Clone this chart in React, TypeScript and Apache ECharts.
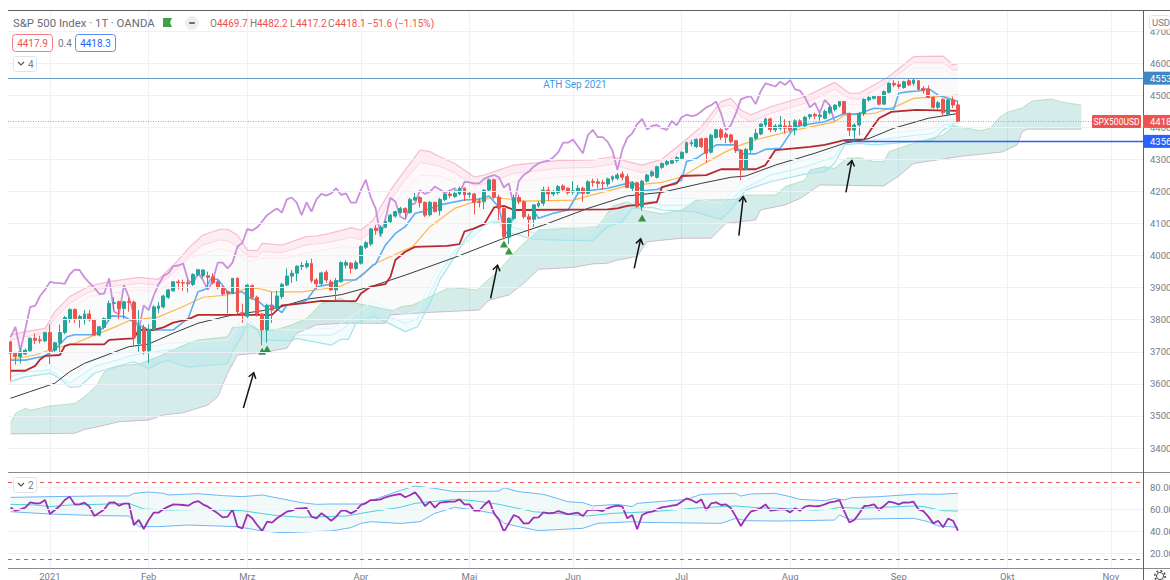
import React, { useEffect, useRef } from "react";
import * as echarts from "echarts";

type P = [number, number];

const FONT = "Roboto, 'Liberation Sans', sans-serif";
const GREY = "#787b86";
const UP = "#26a69a";
const DOWN = "#ef5350";

const monthTicks = [8, 28, 48, 71, 93, 114, 136, 158, 180, 202, 223];
const monthLabels = ["2021", "Feb", "Mrz", "Apr", "Mai", "Jun", "Jul", "Aug", "Sep", "Okt", "Nov"];
const priceTicks = [3400, 3500, 3600, 3700, 3800, 3900, 4000, 4100, 4200, 4300, 4400, 4500, 4600, 4700];
const rsiTicks = [20, 40, 60, 80];
const barCount = 230;

const opens = [
  3731, 3695, 3685, 3693, 3703, 3742, 3737, 3734, 3760, 3705,
  3727, 3760, 3803, 3832, 3803, 3802, 3818, 3800, 3752, 3776,
  3801, 3851, 3856, 3835, 3856, 3855, 3726, 3776, 3703, 3770,
  3835, 3840, 3870, 3890, 3918, 3916, 3915, 3910, 3940, 3937,
  3937, 3934, 3918, 3902, 3887, 3882, 3929, 3822, 3811, 3906,
  3870, 3818, 3768, 3843, 3835, 3872, 3908, 3936, 3945, 3966,
  3965, 3975, 3924, 3912, 3948, 3918, 3893, 3919, 3970, 3976,
  3960, 3976, 4026, 4036, 4085, 4070, 4088, 4106, 4123, 4134,
  4147, 4134, 4173, 4181, 4166, 4127, 4166, 4140, 4175, 4192,
  4184, 4192, 4210, 4191, 4192, 4168, 4168, 4204, 4236, 4182,
  4147, 4057, 4116, 4181, 4168, 4121, 4113, 4155, 4163, 4204,
  4192, 4196, 4217, 4210, 4198, 4199, 4210, 4194, 4231, 4230,
  4228, 4223, 4238, 4241, 4254, 4246, 4210, 4227, 4152, 4232,
  4249, 4244, 4275, 4285, 4288, 4296, 4303, 4321, 4348, 4340,
  4364, 4365, 4322, 4368, 4392, 4379, 4376, 4358, 4329, 4269,
  4329, 4365, 4379, 4407, 4426, 4392, 4397, 4404, 4404, 4392,
  4420, 4404, 4433, 4440, 4433, 4428, 4445, 4456, 4466, 4480,
  4443, 4391, 4407, 4443, 4485, 4490, 4497, 4472, 4509, 4537,
  4533, 4524, 4545, 4537, 4545, 4521, 4518, 4493, 4462, 4487,
  4441, 4485, 4469.7,
];
const closes = [
  3695, 3685, 3700, 3705, 3742, 3736, 3735, 3760, 3705, 3728,
  3760, 3807, 3832, 3803, 3810, 3818, 3800, 3752, 3778, 3804,
  3851, 3853, 3835, 3856, 3854, 3745, 3778, 3703, 3770, 3840,
  3843, 3874, 3893, 3918, 3915, 3914, 3912, 3941, 3956, 3955,
  3932, 3915, 3900, 3880, 3882, 3929, 3825, 3817, 3908, 3870,
  3818, 3768, 3845, 3830, 3874, 3910, 3936, 3945, 3967, 3969,
  3975, 3922, 3912, 3946, 3924, 3893, 3922, 3978, 3978, 3960,
  3978, 4028, 4040, 4083, 4078, 4088, 4106, 4126, 4137, 4147,
  4134, 4175, 4181, 4165, 4126, 4166, 4137, 4175, 4192, 4187,
  4194, 4210, 4189, 4194, 4165, 4165, 4204, 4236, 4182, 4147,
  4059, 4116, 4180, 4168, 4121, 4113, 4158, 4163, 4204, 4192,
  4199, 4215, 4206, 4196, 4202, 4210, 4194, 4230, 4228, 4225,
  4225, 4239, 4246, 4251, 4244, 4212, 4225, 4152, 4232, 4251,
  4261, 4277, 4287, 4293, 4296, 4306, 4322, 4352, 4352, 4362,
  4340, 4319, 4375, 4392, 4369, 4369, 4355, 4327, 4267, 4331,
  4367, 4381, 4410, 4426, 4393, 4404, 4407, 4397, 4392, 4420,
  4406, 4431, 4439, 4435, 4438, 4449, 4462, 4469, 4480, 4443,
  4391, 4407, 4443, 4487, 4493, 4497, 4472, 4511, 4537, 4532,
  4527, 4542, 4532, 4547, 4518, 4514, 4493, 4462, 4476, 4445,
  4485, 4469, 4418.1,
];
const highs = [
  3735, 3700, 3711, 3710, 3745, 3757, 3750, 3762, 3786, 3731,
  3785, 3812, 3835, 3835, 3815, 3830, 3830, 3803, 3780, 3807,
  3860, 3870, 3860, 3858, 3868, 3860, 3830, 3785, 3785, 3845,
  3855, 3878, 3896, 3920, 3925, 3925, 3925, 3945, 3958, 3958,
  3950, 3945, 3925, 3907, 3890, 3930, 3932, 3850, 3910, 3910,
  3875, 3820, 3850, 3887, 3890, 3915, 3960, 3955, 3970, 3980,
  3985, 3990, 3930, 3950, 3955, 3925, 3930, 3982, 3985, 3980,
  3985, 4032, 4045, 4086, 4095, 4095, 4110, 4130, 4140, 4152,
  4150, 4180, 4195, 4185, 4168, 4170, 4168, 4180, 4195, 4205,
  4205, 4215, 4212, 4200, 4195, 4180, 4206, 4240, 4240, 4190,
  4150, 4120, 4190, 4190, 4172, 4130, 4160, 4170, 4215, 4215,
  4205, 4220, 4222, 4212, 4232, 4220, 4215, 4235, 4240, 4240,
  4235, 4243, 4250, 4258, 4262, 4255, 4232, 4230, 4236, 4255,
  4265, 4280, 4290, 4298, 4302, 4310, 4325, 4355, 4360, 4365,
  4368, 4368, 4380, 4395, 4397, 4385, 4380, 4360, 4332, 4335,
  4370, 4395, 4412, 4430, 4430, 4410, 4435, 4425, 4420, 4425,
  4425, 4435, 4442, 4445, 4445, 4455, 4470, 4472, 4482, 4482,
  4446, 4412, 4448, 4490, 4497, 4500, 4500, 4515, 4540, 4547,
  4543, 4545, 4550, 4552, 4547, 4528, 4530, 4497, 4482, 4490,
  4488, 4495, 4482.2,
];
const lows = [
  3610, 3660, 3664, 3690, 3700, 3724, 3726, 3730, 3662, 3700,
  3700, 3755, 3790, 3790, 3775, 3785, 3795, 3750, 3748, 3770,
  3795, 3830, 3800, 3800, 3825, 3715, 3700, 3692, 3665, 3765,
  3820, 3835, 3865, 3888, 3895, 3890, 3885, 3905, 3935, 3930,
  3895, 3910, 3895, 3875, 3820, 3880, 3817, 3790, 3805, 3865,
  3810, 3720, 3728, 3790, 3830, 3865, 3905, 3915, 3920, 3955,
  3960, 3915, 3895, 3905, 3915, 3890, 3860, 3915, 3960, 3945,
  3955, 3972, 4020, 4030, 4065, 4060, 4085, 4100, 4118, 4130,
  4115, 4130, 4170, 4150, 4120, 4122, 4135, 4125, 4170, 4180,
  4180, 4188, 4170, 4180, 4128, 4150, 4145, 4200, 4175, 4111,
  4050, 4036, 4110, 4160, 4115, 4059, 4090, 4150, 4155, 4170,
  4185, 4190, 4200, 4190, 4190, 4190, 4168, 4190, 4215, 4210,
  4205, 4215, 4230, 4235, 4235, 4210, 4200, 4150, 4140, 4228,
  4245, 4240, 4270, 4280, 4285, 4290, 4300, 4318, 4340, 4335,
  4335, 4290, 4318, 4365, 4360, 4350, 4350, 4320, 4235, 4265,
  4320, 4360, 4375, 4400, 4385, 4385, 4390, 4380, 4385, 4375,
  4400, 4400, 4425, 4425, 4420, 4425, 4440, 4450, 4462, 4440,
  4373, 4358, 4375, 4435, 4480, 4487, 4468, 4470, 4505, 4525,
  4520, 4520, 4528, 4530, 4515, 4505, 4490, 4458, 4455, 4435,
  4437, 4460, 4417.2,
];

const tenkan: P[] = [
  [0, 3674], [3, 3674], [7, 3687], [9, 3708], [11.5, 3747], [13, 3753], [17, 3753], [19, 3778], [20.5, 3812], [23, 3810],
  [26, 3784], [28, 3768], [33, 3768], [36, 3804], [38, 3887], [39.5, 3895], [40.5, 3926], [42, 3926], [44, 3887], [45, 3882],
  [47, 3887], [48.5, 3867], [50, 3861], [51.5, 3841], [53, 3846], [55, 3822], [56, 3846], [58, 3849], [60, 3861], [62, 3903],
  [65, 3911], [67, 3924], [70, 3924], [72, 3950], [73.5, 3971], [74, 3974], [76, 4033], [78, 4069], [80, 4090], [82, 4132],
  [83.5, 4137], [87, 4158], [92, 4173], [95, 4176], [97, 4186], [99, 4150], [100, 4080], [101, 4062], [102, 4142], [106, 4142],
  [107, 4116], [110, 4132], [113, 4142], [115, 4194], [117, 4202], [121, 4210], [125, 4225], [126, 4230], [128, 4202], [131, 4206],
  [136, 4235], [137, 4293], [139, 4303], [141, 4324], [143, 4345], [147, 4345], [148, 4317], [151, 4317], [153, 4331], [156, 4334],
  [158, 4381], [159, 4402], [162, 4410], [165, 4417], [169, 4443], [171, 4441], [172, 4443], [175, 4459], [179, 4456], [180, 4506],
  [182, 4511], [184, 4513], [186, 4521], [188, 4500], [190, 4490], [192, 4480],
];
const kijun: P[] = [
  [0, 3641], [3, 3641], [5, 3656], [6, 3676], [7, 3687], [10, 3690], [11, 3718], [12, 3723], [19, 3723], [20, 3737],
  [24, 3741], [25, 3742], [26, 3768], [29, 3768], [31, 3776], [33, 3791], [36, 3801], [38, 3815], [53, 3815], [55, 3845],
  [59, 3851], [63, 3859], [67, 3858], [70, 3858], [71, 3882], [73, 3903], [76, 3911], [77, 3934], [78, 3986], [80, 4012],
  [82, 4027], [88.5, 4030], [91, 4036], [92, 4075], [94, 4085], [96, 4098], [98, 4150], [100, 4155], [102, 4142], [121, 4144],
  [123, 4147], [125, 4155], [127, 4158], [131, 4167], [132, 4213], [135, 4225], [136, 4248], [141, 4251], [144, 4269], [151, 4269],
  [153, 4282], [155, 4329], [162, 4339], [165, 4345], [169, 4360], [173, 4362], [175, 4407], [176, 4428], [178.5, 4448], [183.5, 4454],
  [192, 4451],
];
const ema: P[] = [
  [0, 3676], [5, 3690], [9, 3711], [13, 3726], [17, 3752], [21, 3776], [24, 3797], [30, 3809], [35, 3841], [37, 3856],
  [39, 3870], [44, 3877], [48, 3898], [50, 3898], [53, 3887], [59, 3887], [63, 3895], [67, 3905], [71, 3934], [74, 3976],
  [81.5, 4028], [85, 4090], [90, 4147], [94, 4168], [98, 4182], [104, 4170], [114, 4173], [118, 4189], [125, 4217], [132, 4228],
  [136, 4245], [140, 4282], [145, 4324], [148, 4345], [152, 4365], [159, 4391], [167, 4417], [169, 4438], [175, 4443], [180, 4469],
  [183, 4490], [189, 4497], [192, 4500],
];
const sma: P[] = [
  [0, 3555], [4, 3576], [9, 3602], [12, 3638], [15, 3664], [24, 3716], [28, 3724], [33, 3758], [38, 3789], [45, 3815],
  [51, 3828], [55, 3841], [60, 3864], [67, 3878], [73, 3903], [80, 3939], [90, 3994], [99.5, 4051], [108, 4095], [117, 4147],
  [125, 4186], [132, 4197], [140, 4225], [146, 4244], [149, 4248], [155, 4282], [163, 4319], [169, 4350], [174, 4365], [179, 4397],
  [186, 4428], [192, 4443],
];
const spanA: P[] = [
  [0, 3477], [1, 3508], [3, 3524], [4, 3518], [8, 3531], [13, 3539], [15, 3560], [17.5, 3596], [19, 3638], [22, 3656],
  [26, 3662], [30, 3685], [32, 3700], [36, 3726], [38, 3737], [44, 3747], [45, 3776], [49, 3780], [51, 3763], [54, 3770],
  [57, 3784], [60, 3804], [63, 3851], [67, 3867], [68, 3858], [73.5, 3841], [77.5, 3828], [79, 3840], [81.6, 3846], [86.4, 3882],
  [89, 3901], [94.5, 3893], [99, 3955], [102.6, 4017], [104.7, 4048], [106, 4064], [107, 4080], [119, 4090], [122, 4154], [125, 4168],
  [128, 4142], [132, 4130], [136, 4142], [139, 4173], [147, 4175], [149, 4189], [155, 4189], [157, 4215], [161, 4235], [162, 4267],
  [165, 4277], [167, 4272], [169.5, 4303], [172, 4305], [175, 4293], [177, 4293], [178, 4324], [182, 4345], [189, 4376], [191, 4402],
  [193, 4400], [196.5, 4389], [198.5, 4397], [200.5, 4432], [202, 4447], [205, 4460], [207, 4482], [211, 4488], [213, 4479], [217, 4469],
];
const spanB: P[] = [
  [0, 3444], [13, 3446], [15, 3458], [18, 3467], [22, 3482], [28, 3487], [31, 3503], [35, 3510], [40, 3534], [42, 3560],
  [44, 3633], [46, 3690], [51, 3697], [56, 3711], [58, 3758], [62, 3784], [67, 3789], [76, 3789], [77, 3815], [84, 3822],
  [95, 3830], [97, 3861], [101, 3877], [104, 3913], [107, 3957], [114, 3963], [118, 3974], [121, 3976], [123, 3986], [127, 3997],
  [129, 4043], [136, 4054], [142, 4054], [145, 4100], [151, 4111], [152, 4142], [157, 4158], [160, 4178], [164, 4220], [177, 4217],
  [180, 4248], [183, 4287], [193, 4310], [201, 4323], [204, 4345], [205, 4385], [206, 4394], [217, 4394],
];
const upperOuter: P[] = [
  [0, 3752], [3, 3763], [7, 3773], [9, 3825], [12, 3872], [16, 3905], [20, 3919], [26, 3932], [30, 3926], [33, 3971],
  [34, 3986], [36.4, 4028], [39, 4064], [42.5, 4082], [44, 4082], [46, 4064], [48, 4017], [50, 4015], [51, 4038], [55, 4033],
  [60, 4059], [62, 4061], [64, 4067], [67.5, 4080], [69, 4087], [71, 4079], [73.5, 4111], [77, 4204], [80, 4267], [83, 4329],
  [85, 4324], [87, 4308], [90, 4287], [94, 4245], [96, 4251], [99, 4267], [102, 4282], [111, 4296], [118, 4298], [122, 4308],
  [125, 4293], [128, 4282], [132, 4300], [136, 4350], [140, 4402], [144, 4480], [146, 4490], [148, 4454], [150, 4438], [154, 4464],
  [161, 4495], [167, 4540], [170, 4506], [172, 4506], [178, 4558], [183, 4620], [189, 4622], [191, 4594], [192, 4599],
];
const upperMid: P[] = [
  [0, 3737], [3, 3747], [7, 3758], [9, 3804], [12, 3851], [16, 3887], [20, 3903], [26, 3913], [30, 3908], [33, 3945],
  [36.4, 4002], [39, 4033], [42.5, 4049], [44, 4046], [46, 4028], [48, 3997], [50, 3995], [51, 4012], [55, 4009], [60, 4033],
  [64, 4040], [67.5, 4051], [69, 4057], [71, 4049], [73.5, 4080], [77, 4173], [80, 4236], [83, 4290], [85, 4285], [87, 4278],
  [90, 4258], [94, 4218], [96, 4224], [99, 4240], [102, 4256], [111, 4272], [118, 4275], [122, 4285], [125, 4270], [128, 4258],
  [132, 4275], [136, 4329], [140, 4381], [144, 4464], [146, 4469], [148, 4433], [150, 4417], [154, 4443], [161, 4475], [167, 4518],
  [170, 4490], [172, 4487], [178, 4542], [183, 4601], [189, 4601], [191, 4578], [192, 4580],
];
const upperInner: P[] = [
  [0, 3718], [3, 3731], [7, 3742], [9, 3789], [12, 3835], [16, 3872], [20, 3882], [26, 3893], [30, 3888], [33, 3924],
  [36, 3991], [42.5, 4022], [46, 4007], [48, 3981], [51, 3991], [55, 3991], [60, 4007], [67.5, 4028], [71, 4023], [73.5, 4054],
  [77, 4142], [80, 4204], [83, 4250], [87, 4248], [90, 4230], [94, 4195], [96, 4200], [99, 4218], [102, 4230], [111, 4245],
  [118, 4250], [122, 4260], [125, 4248], [128, 4238], [132, 4255], [136, 4305], [140, 4360], [144, 4440], [146, 4450], [148, 4412],
  [150, 4398], [154, 4425], [161, 4456], [167, 4498], [170, 4472], [172, 4470], [178, 4525], [183, 4585], [189, 4585], [191, 4562],
  [192, 4565],
];
const lowerInner: P[] = [
  [0, 3638], [5, 3654], [8, 3659], [12, 3622], [17, 3674], [25, 3706], [32, 3726], [44, 3737], [48, 3820], [51, 3773],
  [57, 3768], [65, 3773], [67, 3789], [73.5, 3856], [80, 3815], [82.5, 3830], [87, 3976], [90, 4038], [94, 4085], [97, 4115],
  [99, 4130], [100, 4110], [106, 4090], [118, 4085], [121, 4125], [124, 4150], [126, 4185], [130, 4195], [132, 4178], [138.5, 4178],
  [144, 4163], [148, 4225], [154, 4272], [161, 4298], [167, 4329], [169, 4376], [175, 4376], [187, 4396], [189, 4420], [192, 4428],
];
const lowerMid: P[] = [
  [0, 3622], [3, 3638], [8, 3643], [12, 3602], [17, 3654], [25, 3690], [32, 3706], [44, 3711], [48, 3804], [51, 3758],
  [57, 3752], [65, 3752], [67, 3768], [70, 3804], [73.5, 3830], [80, 3789], [82.5, 3804], [87, 3945], [90, 4015], [94, 4060],
  [97, 4105], [99, 4115], [100, 4095], [106, 4071], [118, 4064], [121, 4105], [124, 4125], [126, 4165], [130, 4170], [132, 4157],
  [138.5, 4157], [144, 4142], [148, 4204], [154, 4251], [161, 4277], [167, 4308], [169, 4358], [175, 4360], [187, 4381], [189, 4407],
  [192, 4414],
];
const lowerOuter: P[] = [
  [0, 3607], [3, 3622], [8, 3633], [10, 3617], [12, 3589], [14, 3591], [17, 3633], [20, 3648], [25, 3669], [28, 3648],
  [30, 3664], [32, 3674], [33, 3666], [36, 3652], [43, 3662], [44, 3664], [45, 3700], [47, 3752], [48, 3789], [50, 3768],
  [51, 3737], [57, 3734], [58, 3742], [65, 3721], [67, 3739], [68.5, 3739], [70, 3789], [73.5, 3810], [76, 3794], [80, 3763],
  [82.5, 3778], [85, 3851], [87, 3924], [90, 3996], [92, 4048], [94, 4085], [97, 4100], [99, 4106], [100, 4075], [103, 4064],
  [106, 4050], [118, 4046], [121, 4090], [124, 4106], [126, 4147], [130, 4150], [132, 4142], [138.5, 4137], [144, 4113], [146, 4142],
  [148, 4184], [149, 4204], [154, 4230], [161, 4254], [165, 4262], [167, 4287], [169, 4345], [172, 4350], [175, 4345], [187, 4360],
  [189, 4391], [191, 4407], [192, 4399],
];

const rsi = [
  62, 59.1, 60.3, 61.9, 66.7, 65.8, 65.8, 68.8, 56.1, 59.7,
  63.4, 68.8, 71.9, 64.9, 64.9, 66.4, 62.8, 54.3, 57.3, 60.3,
  66.4, 66.7, 63.7, 65.5, 65.5, 46.1, 50.7, 42.5, 50.7, 57.3,
  57.3, 60.6, 62.8, 64.9, 64.6, 64.3, 63.7, 66.4, 67.9, 64.9,
  62.8, 59.7, 56.7, 53.1, 53.7, 60.3, 44.6, 43.1, 55.8, 52.2,
  46.1, 40.7, 49.1, 48.2, 52.2, 55.2, 58.2, 59.1, 61, 61.3,
  61.6, 53.7, 52.2, 56.7, 53.7, 50, 53.7, 59.1, 59.1, 56.7,
  59.1, 64.3, 65.8, 68.8, 68.8, 69.4, 71.3, 72.5, 73.4, 74.3,
  71.3, 73.4, 75.8, 70.3, 63.4, 67.3, 61.9, 66.4, 67, 67.3,
  67.3, 69.4, 64.9, 64.9, 59.1, 59.1, 64.3, 68.2, 56.7, 50.7,
  40, 47.6, 55.2, 53.1, 47.6, 47.6, 52.8, 53.1, 57.6, 56.7,
  57, 58.8, 57.3, 55.8, 56.7, 57.3, 54.3, 59.7, 60, 59.7,
  58.8, 61.3, 62.8, 63.7, 62.8, 52.2, 55.2, 42.2, 55.2, 57.3,
  58.2, 60.3, 62.2, 62.8, 63.7, 64.3, 67.3, 70.3, 68.8, 66.4,
  69.4, 59.7, 65.8, 66.7, 64.3, 64.9, 61.3, 53.7, 45.2, 52.2,
  58.2, 59.7, 61.3, 64.9, 59.1, 59.7, 60.6, 60.3, 57.6, 61.3,
  59.1, 62.8, 63.7, 63.1, 63.4, 64.9, 66.7, 67.3, 68.8, 58.2,
  48.5, 50.7, 56.7, 63.4, 63.7, 64.9, 59.7, 63.4, 67.3, 66.4,
  64.9, 66.7, 66.4, 67.3, 60.3, 58.8, 53.7, 47.6, 50, 44,
  51.9, 50, 41,
];
const rsiUpper: P[] = [
  [0, 71.2], [8, 71.9], [18, 72.5], [24, 72.5], [25, 74.9], [28, 76.1], [31, 74.9], [32, 73.4], [38, 74.6], [43, 72.8],
  [47, 71.9], [51, 73.4], [59, 66.4], [62, 64.9], [65, 65.2], [71, 65.2], [79, 77.5], [82, 81.6], [86, 79.4], [90, 76.4],
  [99, 77], [100, 80], [103, 76.4], [108, 74], [113, 67.3], [116, 66.4], [118, 63.4], [123, 64.9], [126, 62.8], [127, 65.8],
  [137, 69.4], [140, 74], [147, 74.9], [148, 72.5], [150, 74.3], [155, 74.9], [158, 71.9], [160, 69.4], [165, 68.2], [167, 70.3],
  [169, 68.8], [170.5, 71], [176, 71.9], [184, 74.3], [188, 74], [192, 74.9],
];
const rsiMid: P[] = [
  [0, 64.9], [5, 64.3], [8, 62.8], [12, 64.3], [18, 64.9], [24, 65.8], [27, 60.6], [32, 59.7], [39, 60.3], [47, 59.1],
  [54, 54.6], [59, 53.1], [68, 54.3], [73, 58.2], [79, 62.2], [82, 65.8], [90, 69.4], [94, 68.2], [99, 64.9], [106, 58.2],
  [113, 55.8], [117, 54.3], [122, 56.7], [130, 58.2], [140, 61.9], [147, 63.4], [151, 61.9], [156, 61.3], [163, 59.7], [166, 60.3],
  [168, 62.2], [172, 61.3], [183, 63.4], [185, 62.8], [189, 59.1], [192, 58.8],
];
const rsiLower: P[] = [
  [0, 58.2], [8, 56.1], [18, 54.6], [24, 54.3], [26, 44.6], [30, 44.6], [36, 46.1], [46, 44.6], [51, 40.7], [55, 39.1],
  [65, 40.7], [69, 43.7], [71, 47.6], [73, 49.1], [79, 47.5], [83, 49.1], [86, 56.7], [90, 62.2], [94, 59.7], [98, 56.7],
  [100, 47.6], [103, 44.6], [107, 41], [116, 43.1], [119, 47.6], [126, 49.1], [128, 48.5], [144, 47.6], [147, 52.2], [149, 50],
  [156, 49.7], [167, 50.6], [168, 55.2], [170, 51.3], [183, 52.2], [186, 49.1], [188, 45.2], [192, 44],
];

const triangles: P[] = [[51, 3702], [52, 3709], [100, 4036], [101, 4014], [128, 4117]];
const arrows: [number, number, number, number][] = [
  [47.2, 3525, 49.3, 3635],
  [97.3, 3867, 98.7, 3970],
  [126.4, 3960, 127.7, 4052],
  [147.6, 4062, 148.5, 4184],
  [169.3, 4197, 170.5, 4296],
];

const ohlcTexts: [number, string, string][] = [
  [210, "O", GREY], [217, "4469.7", DOWN],
  [250, "H", GREY], [257, "4482.2", DOWN],
  [290, "L", GREY], [296, "4417.2", DOWN],
  [328, "C", GREY], [335, "4418.1", DOWN],
  [367, "−51.6 (−1.15%)", DOWN],
];

const dates = (() => {
  const d = new Date(Date.UTC(2020, 11, 23));
  const out: string[] = [];
  while (out.length < barCount) {
    const wd = d.getUTCDay();
    if (wd !== 0 && wd !== 6) out.push(d.toISOString().slice(0, 10));
    d.setUTCDate(d.getUTCDate() + 1);
  }
  return out;
})();

function area(top: P[], bottom: P[], fill: string, x: number, y: number, z = 1) {
  return {
    type: "custom",
    xAxisIndex: x,
    yAxisIndex: y,
    silent: true,
    z,
    clip: true,
    data: [[top[0][0], top[0][1]]],
    encode: { x: 0, y: 1 },
    renderItem: (_: any, api: any) => ({
      type: "polygon",
      shape: { points: [...top, ...[...bottom].reverse()].map((p) => api.coord(p)) },
      style: { fill },
    }),
  };
}
function line(data: P[], color: string, width: number, x = 2, y = 0, z = 3) {
  return {
    type: "line",
    xAxisIndex: x,
    yAxisIndex: y,
    data,
    z,
    silent: true,
    showSymbol: false,
    symbol: "none",
    lineStyle: { color, width },
  };
}
function gridRules(values: number[], y: number, anchor: number) {
  return {
    ...line([[0, anchor]], "rgba(0,0,0,0)", 0, y + 2, y, 0),
    markLine: {
      silent: true,
      symbol: "none",
      animation: false,
      label: { show: false },
      lineStyle: { color: "#eef1f7", type: "solid", width: 1 },
      data: values.map((v) => ({ yAxis: v })),
    },
  };
}

export default function App() {
  const ref = useRef<HTMLDivElement>(null);
  useEffect(() => {
    const chart = echarts.init(ref.current!, undefined, { renderer: "svg" });
    const isMonth = (i: number) => monthTicks.includes(i);
    const split = { show: true, interval: isMonth, alignWithLabel: true, lineStyle: { color: "#edf1f6", width: 1 } };
    const yLabel = { margin: 7, fontSize: 9.5, color: GREY, fontFamily: FONT, showMinLabel: true, showMaxLabel: true };

    const option: any = {
      animation: false,
      backgroundColor: "#fff",
      textStyle: { fontFamily: FONT },
      grid: [
        { left: 8, top: 10, width: 1135, height: 462, outerBoundsMode: "none" },
        { left: 8, top: 472, width: 1135, height: 96, outerBoundsMode: "none" },
      ],
      xAxis: [
        { type: "category", gridIndex: 0, data: dates, boundaryGap: true, axisLine: { show: false }, axisTick: { show: false }, axisLabel: { show: false }, splitLine: split },
        {
          type: "category",
          gridIndex: 1,
          data: dates,
          boundaryGap: true,
          axisLine: { show: false },
          axisTick: { show: false },
          splitLine: split,
          axisLabel: {
            show: true,
            interval: isMonth,
            margin: 3,
            fontSize: 9.5,
            color: GREY,
            fontFamily: FONT,
            hideOverlap: false,
            formatter: (_: string, i: number) => monthLabels[monthTicks.indexOf(i)] ?? "",
          },
        },
        { type: "value", gridIndex: 0, show: false, min: -0.5, max: barCount - 0.5, splitLine: { show: false } },
        { type: "value", gridIndex: 1, show: false, min: -0.5, max: barCount - 0.5, splitLine: { show: false } },
      ],
      yAxis: [
        {
          type: "value",
          gridIndex: 0,
          position: "right",
          min: 3325.3,
          max: 4765.5,
          axisLine: { show: false },
          axisTick: { show: false },
          splitLine: { show: false },
          axisLabel: { ...yLabel, customValues: priceTicks, formatter: (v: number) => v.toFixed(1) },
        },
        {
          type: "value",
          gridIndex: 1,
          position: "right",
          min: 7,
          max: 94.3,
          axisLine: { show: false },
          axisTick: { show: false },
          splitLine: { show: false },
          axisLabel: { ...yLabel, customValues: rsiTicks, formatter: (v: number) => v.toFixed(2) },
        },
      ],
      series: [
        gridRules(priceTicks, 0, 4000),
        gridRules(rsiTicks, 1, 50),
        area(spanA, spanB, "rgba(38,166,154,0.2)", 2, 0),
        area(upperInner, lowerInner, "rgba(120,120,120,0.04)", 2, 0),
        area(upperOuter, upperMid, "rgba(233,30,99,0.08)", 2, 0),
        area(upperMid, upperInner, "rgba(233,30,99,0.03)", 2, 0),
        area(lowerInner, lowerMid, "rgba(0,188,212,0.03)", 2, 0),
        area(lowerMid, lowerOuter, "rgba(0,188,212,0.05)", 2, 0),
        line(spanA, "rgba(129,199,132,0.45)", 1, 2, 0, 2),
        line(spanB, "rgba(190,140,175,0.55)", 1, 2, 0, 2),
        line(upperOuter, "#f8bbd0", 1.2, 2, 0, 2),
        line(upperMid, "#fbd3e0", 1, 2, 0, 2),
        line(upperInner, "#fce8ef", 1, 2, 0, 2),
        line(lowerInner, "#dff5f8", 1, 2, 0, 2),
        line(lowerMid, "#c6eef3", 1, 2, 0, 2),
        line(lowerOuter, "#a5e3ea", 1.2, 2, 0, 2),
        {
          type: "candlestick",
          xAxisIndex: 0,
          yAxisIndex: 0,
          z: 3,
          silent: true,
          barWidth: 3.4,
          data: closes.map((c, i) => [opens[i], c, lows[i], highs[i]]),
          itemStyle: { color: UP, color0: DOWN, borderColor: UP, borderColor0: DOWN, borderWidth: 1 },
        },
        line(closes.slice(25).map((c, i): P => [i, c]), "#c990db", 1.8),
        line(sma, "#3a3a3a", 1),
        line(ema, "#ffb74d", 1.2),
        line(tenkan, "#5aaef2", 1.6),
        line(kijun, "#b5292f", 1.8),
        {
          type: "scatter",
          xAxisIndex: 2,
          yAxisIndex: 0,
          z: 4,
          silent: true,
          symbol: "triangle",
          symbolSize: [8, 7],
          itemStyle: { color: "#0a7d12" },
          data: triangles,
        },
        {
          type: "custom",
          xAxisIndex: 2,
          yAxisIndex: 0,
          z: 5,
          silent: true,
          data: arrows,
          encode: { x: 0, y: 1 },
          renderItem: (_: any, api: any) => {
            const a = api.coord([api.value(0), api.value(1)]);
            const b = api.coord([api.value(2), api.value(3)]);
            const ang = Math.atan2(a[1] - b[1], a[0] - b[0]);
            const wing = (d: number) => [b[0] + 6.5 * Math.cos(ang + d), b[1] + 6.5 * Math.sin(ang + d)];
            const st = { stroke: "#111", lineWidth: 1.5, fill: "none" };
            return {
              type: "group",
              children: [
                { type: "line", shape: { x1: a[0], y1: a[1], x2: b[0], y2: b[1] }, style: st },
                { type: "polyline", shape: { points: [wing(0.6), b, wing(-0.6)] }, style: st },
              ],
            };
          },
        },
        area(rsiUpper, rsiLower, "rgba(38,166,154,0.06)", 3, 1),
        line(rsiUpper, "#6cb6f5", 1, 3, 1),
        line(rsiLower, "#6cb6f5", 1, 3, 1),
        line(rsiMid, "#4dd0d8", 1, 3, 1),
        {
          ...line(rsi.map((v, i): P => [i, v]), "#9c2fb3", 1.8, 3, 1, 4),
          markLine: {
            silent: true,
            symbol: "none",
            animation: false,
            label: { show: false },
            data: [
              { yAxis: 85, lineStyle: { color: DOWN, type: [4, 4], width: 1 } },
              { yAxis: 15, lineStyle: { color: UP, type: [4, 4], width: 1 } },
            ],
          },
        },
      ],
    };
    chart.setOption(option);

    const py = (v: number) => chart.convertToPixel({ yAxisIndex: 0 }, v) as number;
    const px = (k: number) => chart.convertToPixel({ xAxisIndex: 2 }, k) as number;
    const text = (x: number, y: number, t: string, fill: string, fontSize = 9.5, align = "left", extra: any = {}) => ({
      type: "text",
      x,
      y,
      z: 20,
      style: { text: t, fill, fontSize, fontFamily: FONT, align, verticalAlign: "middle", ...extra },
    });
    const rect = (x: number, y: number, w: number, h: number, fill: string, stroke?: string, r = 2) => ({
      type: "rect",
      z: 19,
      shape: { x, y, width: w, height: h, r },
      style: { fill, stroke, lineWidth: 1 },
    });
    const rule = (x1: number, y1: number, x2: number, y2: number, stroke: string, lineWidth = 1, extra: any = {}) => ({
      type: "line",
      z: 18,
      shape: { x1, y1, x2, y2 },
      style: { stroke, lineWidth, ...extra },
    });
    const tag = (v: number, t: string, fill: string) => [
      rect(1143, py(v) - 6.5, 27, 13, fill, undefined, 0),
      text(1150, py(v) + 0.5, t, "#fff"),
    ];
    const lastY = Math.round(py(4418.1)) + 0.5;

    chart.setOption({
      graphic: [
        rule(8, 10.5, 1170, 10.5, "#5d606b"),
        rule(8, 472.5, 1170, 472.5, "#8b8d94"),
        rule(8, 568.5, 1170, 568.5, "#8b8d94"),
        rule(1143.5, 10, 1143.5, 580, "#5d606b"),
        rule(8, Math.round(py(4553)) + 0.5, 1143, Math.round(py(4553)) + 0.5, "#6f9bc8"),
        rule(8, lastY, 1143, lastY, "#f28b8b", 1, { lineDash: [1, 1.5] }),
        rule(px(169), Math.round(py(4356)) + 0.5, 1143, Math.round(py(4356)) + 0.5, "#2962ff", 1.5),
        ...tag(4553, "4553.0", "#3f86c4"),
        ...tag(4418.1, "4418.1", DOWN),
        ...tag(4356, "4356.0", "#2962ff"),
        rect(1092, py(4418.1) - 6.5, 49, 13, DOWN, undefined, 1),
        text(1116.5, py(4418.1) + 0.5, "SPX500USD", "#fff", 8.5, "center"),
        text(575, 84, "ATH Sep 2021", "#3b9be8", 10, "center"),
        rect(1149.5, 15.5, 21, 14, "#fff", "#e0e3eb", 3),
        text(1152, 22.5, "USD", GREY, 9.5),
        text(13, 23, "S&P 500 Index · 1T · OANDA", "#6a6d78", 11.4),
        { type: "polygon", z: 20, shape: { points: [[163, 18], [172, 18], [170, 22.5], [172, 27], [163, 27]] }, style: { fill: "#43a047" } },
        { type: "circle", z: 19, shape: { cx: 192, cy: 23, r: 7 }, style: { fill: "#eceef2" } },
        { type: "rect", z: 20, shape: { x: 189, y: 22, width: 6, height: 2, r: 1 }, style: { fill: "#6a6d78" } },
        ...ohlcTexts.map(([x, t, c]) => text(x, 23.5, t, c, 10)),
        rect(12.5, 34.5, 40, 17, "#fff", "#f77c80", 3),
        text(32.5, 43.5, "4417.9", DOWN, 10, "center"),
        text(58, 43.5, "0.4", GREY, 10),
        rect(75.5, 34.5, 40, 17, "#fff", "#5b8def", 3),
        text(95.5, 43.5, "4418.3", "#2962ff", 10, "center"),
        rect(13.5, 56.5, 23, 15, "#fff", "#e0e3eb", 2),
        { type: "polyline", z: 20, shape: { points: [[18, 62], [21, 65], [24, 62]] }, style: { stroke: "#555", lineWidth: 1.2, fill: "none" } },
        text(28, 64, "4", GREY, 10),
        rect(13.5, 477.5, 23, 15, "#fff", "#e0e3eb", 2),
        { type: "polyline", z: 20, shape: { points: [[18, 483], [21, 486], [24, 483]] }, style: { stroke: "#555", lineWidth: 1.2, fill: "none" } },
        text(28, 485, "2", GREY, 10),
        { type: "circle", z: 20, shape: { cx: 1160, cy: 576, r: 3.5 }, style: { fill: "#fff", stroke: "#444", lineWidth: 1 } },
        { type: "circle", z: 20, shape: { cx: 1160, cy: 576, r: 5.2 }, style: { fill: "none", stroke: "#444", lineWidth: 1.5, lineDash: [2, 2.1] } },
      ],
    });
    return () => chart.dispose();
  }, []);
  return <div ref={ref} style={{ position: "absolute", left: 0, top: 0, width: 1170, height: 580 }} />;
}
